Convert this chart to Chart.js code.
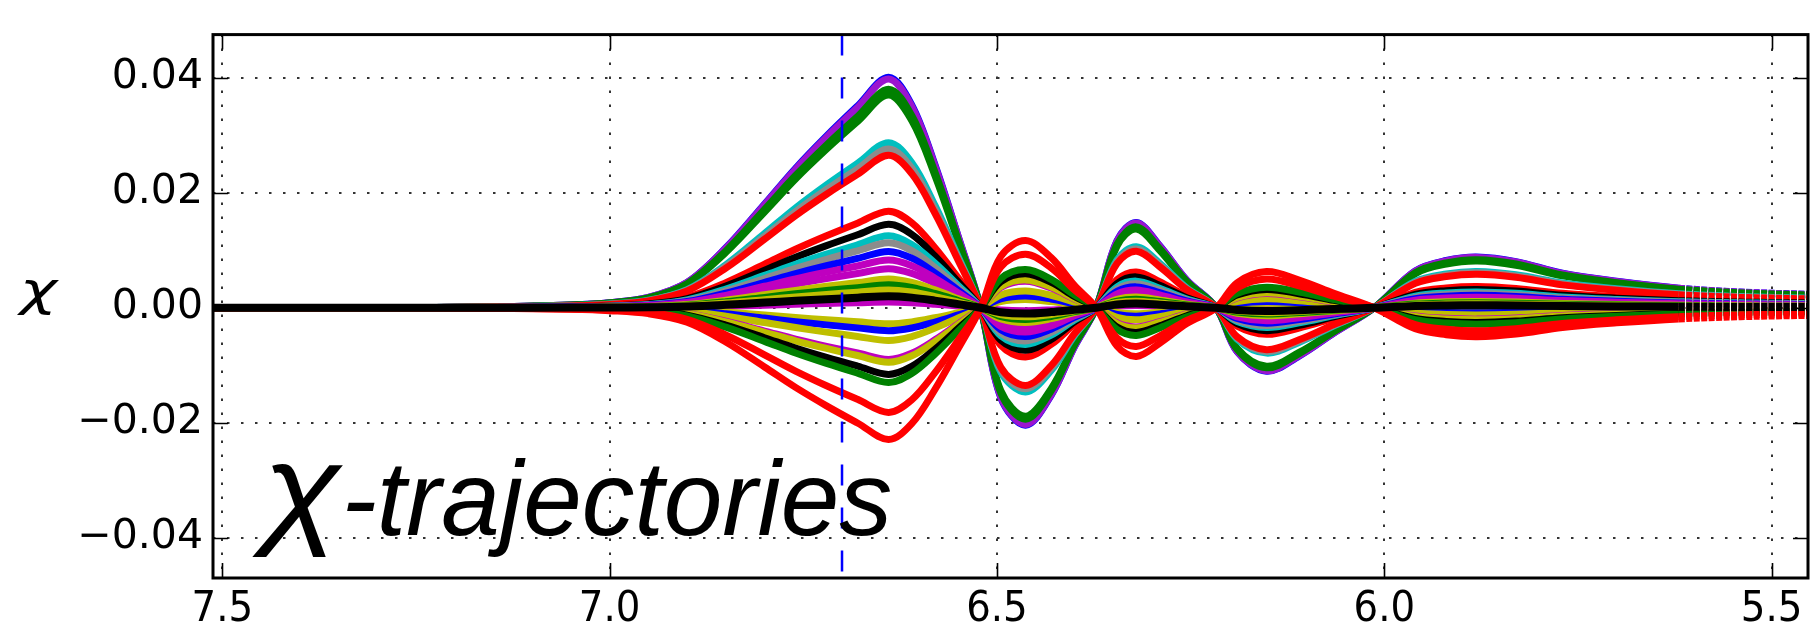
<!DOCTYPE html>
<html>
<head>
<meta charset="utf-8">
<script src="https://cdn.jsdelivr.net/npm/chart.js@4.4.1/dist/chart.umd.min.js"></script>
<style>
    html, body { margin: 0; padding: 0; background: #fff; }
    #wrap { width: 1812px; height: 629px; position: relative; }
</style>
</head>
<body>
<div id="wrap"><canvas id="chi"></canvas></div>
<script>
/* ===========================
   chi-trajectories
============================ */

// x positions (the axis runs from 7.5 down to 5.5)
const xValues = [7.512, 7.30, 7.15, 7.05, 7.00, 6.95, 6.90, 6.85, 6.80, 6.76, 6.72, 6.68, 6.64,
    6.61, 6.58, 6.55, 6.521, 6.495, 6.463, 6.43, 6.40, 6.372, 6.345, 6.32, 6.29, 6.255, 6.217,
    6.19, 6.152, 6.11, 6.065, 6.013, 5.96, 5.92, 5.88, 5.83, 5.77, 5.70, 5.62, 5.54, 5.453];

// shape of the top trajectory, as a fraction of its first peak (all curves share the same nodes)
const profile = [0, 0, 0.004, 0.012, 0.022, 0.045, 0.11, 0.26, 0.45, 0.605, 0.745, 0.875, 1.0,
    0.88, 0.62, 0.31, 0, -0.39, -0.51, -0.38, -0.17, 0, 0.29, 0.37, 0.27, 0.12, 0,
    -0.19, -0.275, -0.21, -0.11, 0, 0.16, 0.205, 0.22, 0.20, 0.15, 0.115, 0.085, 0.068, 0.058];

// value of each trajectory at its first peak (x = 6.64), in drawing order
const peaks = [0.0401, 0.0398, 0.0380, 0.0370, 0.0287, 0.0276, 0.0265, 0.0168, 0.0145, 0.0125,
    0.0113, 0.0098, 0.0083, 0.0068, 0.0050, 0.0040, 0.0031, 0.0010, -0.0028, -0.0040, -0.0057,
    -0.0090, -0.0095, -0.0116, -0.0130, -0.0182, -0.0229, 0.0020];

const colors = ['#0000ff', '#9b14cf', '#008000', '#008000', '#00bfbf', '#8c8c8c', '#ff0000', '#ff0000',
    '#000000', '#00bfbf', '#8c8c8c', '#0000ff', '#bf00bf', '#bf00bf', '#bfbf00', '#008000', '#bfbf00',
    '#bf00bf', '#bfbf00', '#0000ff', '#bfbf00', '#bf00bf', '#bfbf00', '#000000', '#008000', '#ff0000',
    '#ff0000', '#000000'];

const xTicks = [7.5, 7.0, 6.5, 6.0, 5.5];
const yTicks = [-0.04, -0.02, 0.00, 0.02, 0.04];
const markerX = 6.70;
const sparseFrom = 5.66;   // right of this the original markers no longer merge into a line

const X_MIN = 5.453, X_MAX = 7.512;
const Y_MIN = -0.047, Y_MAX = 0.0475;

const datasets = peaks.map((p, i) => ({
    data: xValues.map((x, k) => ({ x, y: p * profile[k] })),
    borderColor: colors[i],
    borderWidth: i === peaks.length - 1 ? 8 : 7,
    pointRadius: 0,
    fill: false,
    tension: 0.35,
    borderJoinStyle: 'round',
    clip: 0,
    order: peaks.length - i,
    segment: { borderDash: c => (c.p0.parsed.x < sparseFrom ? [6, 1.5] : undefined) }
}));

function fitText(ctx, text, font, box) {
    ctx.font = font;
    const m = ctx.measureText(text);
    const w = m.actualBoundingBoxLeft + m.actualBoundingBoxRight;
    const h = m.actualBoundingBoxAscent + m.actualBoundingBoxDescent;
    const sx = (box.x1 - box.x0) / w, sy = (box.y1 - box.y0) / h;
    ctx.save();
    ctx.translate(box.x0, box.y0);
    ctx.scale(sx, sy);
    ctx.fillStyle = '#000';
    ctx.textBaseline = 'alphabetic';
    ctx.fillText(text, m.actualBoundingBoxLeft, m.actualBoundingBoxAscent);
    ctx.restore();
}

const decor = {
    id: 'decor',
    beforeDatasetsDraw(chart) {
        const { ctx, chartArea: a, scales: { x, y } } = chart;
        ctx.save();
        ctx.strokeStyle = '#333';
        ctx.lineWidth = 2;
        ctx.setLineDash([2.5, 11.5]);
        for (const t of xTicks) {
            const px = Math.round(x.getPixelForValue(t));
            ctx.beginPath(); ctx.moveTo(px, a.top); ctx.lineTo(px, a.bottom); ctx.stroke();
        }
        for (const t of yTicks) {
            const py = Math.round(y.getPixelForValue(t));
            ctx.beginPath(); ctx.moveTo(a.left, py); ctx.lineTo(a.right, py); ctx.stroke();
        }
        ctx.restore();
    },
    afterDatasetsDraw(chart) {
        const { ctx, chartArea: a, scales: { x, y } } = chart;
        ctx.save();
        // marker line
        const mx = x.getPixelForValue(markerX);
        ctx.strokeStyle = '#0000ff';
        ctx.lineWidth = 2.5;
        ctx.setLineDash([21, 22]);
        ctx.beginPath(); ctx.moveTo(mx, a.top); ctx.lineTo(mx, a.bottom); ctx.stroke();
        ctx.setLineDash([]);

        // inward ticks
        ctx.strokeStyle = '#000';
        ctx.lineWidth = 1.6;
        for (const t of xTicks) {
            const px = Math.round(x.getPixelForValue(t)) + 0.5;
            ctx.beginPath();
            ctx.moveTo(px, a.bottom); ctx.lineTo(px, a.bottom - 15);
            ctx.moveTo(px, a.top); ctx.lineTo(px, a.top + 15);
            ctx.stroke();
        }
        for (const t of yTicks) {
            const py = Math.round(y.getPixelForValue(t)) + 0.5;
            ctx.beginPath();
            ctx.moveTo(a.left, py); ctx.lineTo(a.left + 15, py);
            ctx.moveTo(a.right, py); ctx.lineTo(a.right - 15, py);
            ctx.stroke();
        }
        // frame
        ctx.lineWidth = 3;
        ctx.strokeRect(a.left, a.top, a.right - a.left, a.bottom - a.top);
        ctx.restore();
    },
    afterDraw(chart) {
        const { ctx } = chart;
        // y axis label
        fitText(ctx, 'χ', 'italic 44px "DejaVu Sans"', { x0: 17, y0: 280, x1: 60, y1: 314 });

        // big caption
        fitText(ctx, 'χ', 'italic 120px "Liberation Sans"', { x0: 252, y0: 462, x1: 344, y1: 557 });
        fitText(ctx, '-trajectories', 'italic 100px "Liberation Sans"', { x0: 347, y0: 458, x1: 890, y1: 557 });
    }
};

new Chart(document.getElementById('chi'), {
    type: 'line',
    data: { datasets },
    options: {
        responsive: true,
        maintainAspectRatio: false,
        animation: false,
        events: [],
        layout: { padding: { top: 14, right: 4, left: 0, bottom: 0 } },
        plugins: { legend: { display: false }, tooltip: { enabled: false } },
        scales: {
            x: {
                type: 'linear',
                reverse: true,
                min: X_MIN,
                max: X_MAX,
                afterBuildTicks: s => { s.ticks = xTicks.map(v => ({ value: v })); },
                afterFit: s => { s.height = 51; },
                grid: { display: false, drawTicks: false },
                border: { display: false },
                ticks: {
                    padding: 6,
                    color: '#000',
                    maxRotation: 0,
                    autoSkip: false,
                    font: { family: '"DejaVu Sans Condensed", "DejaVu Sans"', size: 43 },
                    callback: v => v.toFixed(1)
                }
            },
            y: {
                type: 'linear',
                min: Y_MIN,
                max: Y_MAX,
                afterBuildTicks: s => { s.ticks = yTicks.map(v => ({ value: v })); },
                afterFit: s => { s.width = 213; },
                grid: { display: false, drawTicks: false },
                border: { display: false },
                ticks: {
                    padding: 10,
                    color: '#000',
                    autoSkip: false,
                    font: { family: '"DejaVu Sans"', size: 41 },
                    callback: v => (v < 0 ? '\u2212' : '') + Math.abs(v).toFixed(2)
                }
            }
        }
    },
    plugins: [decor]
});
</script>
</body>
</html>
